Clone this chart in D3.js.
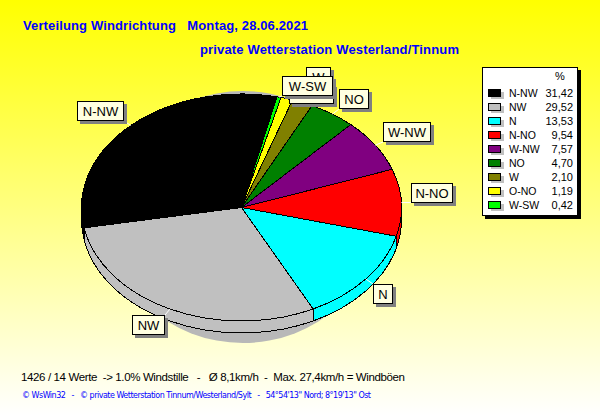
<!DOCTYPE html>
<html>
<head>
<meta charset="utf-8">
<script src="https://cdn.jsdelivr.net/npm/d3@7"></script>
<style>
  html, body { margin: 0; padding: 0; background: #fff; }
  svg { display: block; }
  text { font-family: "Liberation Sans", Arial, sans-serif; }
</style>
</head>
<body>
<svg id="chart" width="600" height="415"></svg>
<script>
const directions = ['N-NW', 'NW', 'N', 'N-NO', 'W-NW', 'NO', 'W', 'O-NO', 'W-SW'];
const shares = [31.42, 29.52, 13.53, 9.54, 7.57, 4.70, 2.10, 1.19, 0.42];
const sliceColors = ['#000000', '#c0c0c0', '#00ffff', '#ff0000', '#800080', '#008000', '#808000', '#ffff00', '#00ff00'];

const title1 = 'Verteilung Windrichtung   Montag, 28.06.2021';
const title2 = 'private Wetterstation Westerland/Tinnum';
const footer1 = '1426 / 14 Werte  -> 1.0% Windstille   -   Ø 8,1km/h  -  Max. 27,4km/h = Windböen';
const footer2 = '© WsWin32   -   © private Wetterstation Tinnum/Westerland/Sylt   -   54°54\'13" Nord; 8°19\'13" Ost';

// label boxes: x, y, width
const labelBoxes = {
  'N-NW': [77, 101, 47],
  'NW': [132, 315, 33],
  'N': [373, 284, 20],
  'N-NO': [411, 183, 42],
  'W-NW': [383, 122, 48],
  'NO': [339, 89, 30],
  'W': [306, 67, 25],
  'O-NO': [289, 84, 45],
  'W-SW': [282, 76, 51]
};
const boxH = 20;

const svg = d3.select('#chart');

const grad = svg.append('defs').append('linearGradient')
  .attr('id', 'bg')
  .attr('x1', 0).attr('y1', 0).attr('x2', 0).attr('y2', 1);
grad.append('stop').attr('offset', 0).attr('stop-color', '#ffff00');
grad.append('stop').attr('offset', 1).attr('stop-color', '#ffffff');

svg.append('rect')
  .attr('width', 600).attr('height', 415)
  .attr('fill', 'url(#bg)');

// titles
svg.append('text')
  .attr('x', 23).attr('y', 30)
  .style('white-space', 'pre')
  .attr('textLength', 285)
  .attr('font-size', 13).attr('font-weight', 'bold').attr('fill', '#0000ff')
  .text(title1);
svg.append('text')
  .attr('x', 200).attr('y', 54)
  .attr('textLength', 259)
  .attr('font-size', 13).attr('font-weight', 'bold').attr('fill', '#0000ff')
  .text(title2);

// pie
const cx = 241.5, cy = 207.5, rx = 160, ry = 113.5, depth = 12;
const startAngle = 12.8 * Math.PI / 180;

const pie = d3.pie()
  .sort(null)
  .startAngle(startAngle)
  .endAngle(startAngle - 2 * Math.PI);
const slices = pie(shares);

const arc = d3.arc().innerRadius(0).outerRadius(rx);
const rim = d3.arc().innerRadius(rx).outerRadius(rx);
const squash = `scale(1,${ry / rx})`;

function pieLayer(dy) {
  return svg.append('g')
    .attr('transform', `translate(${cx},${cy + dy}) ${squash}`)
    .attr('shape-rendering', 'crispEdges');
}

// drop shadow behind the pie
svg.append('ellipse')
  .attr('cx', 243).attr('cy', 217)
  .attr('rx', 135).attr('ry', 126)
  .attr('fill', '#b8b8b8');

// side wall, stacked from the bottom up
d3.range(depth, 0, -1).forEach(function(dy) {
  pieLayer(dy).selectAll('path')
    .data(slices)
    .enter()
    .append('path')
    .attr('d', arc)
    .attr('fill', (d, i) => sliceColors[i]);
});

pieLayer(depth).selectAll('path')
  .data(slices)
  .enter()
  .append('path')
  .attr('d', rim)
  .attr('fill', 'none')
  .attr('stroke', '#000')
  .attr('vector-effect', 'non-scaling-stroke');

// vertical edges on the wall
svg.append('g')
  .attr('transform', `translate(${cx},${cy})`)
  .attr('shape-rendering', 'crispEdges')
  .selectAll('line')
  .data(slices.filter(d => Math.cos(d.endAngle) < 0))
  .enter()
  .append('line')
  .attr('x1', d => rx * Math.sin(d.endAngle))
  .attr('x2', d => rx * Math.sin(d.endAngle))
  .attr('y1', d => -ry * Math.cos(d.endAngle))
  .attr('y2', d => -ry * Math.cos(d.endAngle) + depth)
  .attr('stroke', '#000');

// top face
pieLayer(0).selectAll('path')
  .data(slices)
  .enter()
  .append('path')
  .attr('d', arc)
  .attr('fill', (d, i) => sliceColors[i])
  .attr('stroke', '#000')
  .attr('vector-effect', 'non-scaling-stroke');

// labels with white leaders
const labels = svg.append('g');

slices.forEach(function(d, i) {
  const name = directions[i];
  const [bx, by, bw] = labelBoxes[name];
  const mid = (d.startAngle + d.endAngle) / 2;
  const ax = cx + rx * Math.sin(mid);
  const ay = cy - ry * Math.cos(mid);
  labels.append('line')
    .attr('x1', ax).attr('y1', ay)
    .attr('x2', Math.max(bx, Math.min(bx + bw, ax)))
    .attr('y2', Math.max(by, Math.min(by + boxH, ay)))
    .attr('stroke', '#fff');
});

directions.forEach(function(name) {
  const [bx, by, bw] = labelBoxes[name];
  const g = labels.append('g').attr('shape-rendering', 'crispEdges');
  g.append('rect')
    .attr('x', bx + 3).attr('y', by + 3)
    .attr('width', bw).attr('height', boxH)
    .attr('fill', '#808080');
  g.append('rect')
    .attr('x', bx + 0.5).attr('y', by + 0.5)
    .attr('width', bw - 1).attr('height', boxH - 1)
    .attr('fill', '#ffffe1')
    .attr('stroke', '#000');
  g.append('text')
    .attr('x', bx + bw / 2).attr('y', by + 15)
    .attr('text-anchor', 'middle')
    .attr('font-size', 13).attr('fill', '#000')
    .text(name);
});

// legend
const legend = svg.append('g').attr('shape-rendering', 'crispEdges');
const rowY = d3.scalePoint().domain(directions).range([92.5, 204.5]);
const fmt = d3.formatLocale({ decimal: ',', thousands: '.', grouping: [3], currency: ['', ''] }).format('.2f');

legend.append('rect')
  .attr('x', 485).attr('y', 70).attr('width', 96).attr('height', 149)
  .attr('fill', '#000');
legend.append('rect')
  .attr('x', 482.5).attr('y', 67.5).attr('width', 95).attr('height', 148)
  .attr('fill', '#fff').attr('stroke', '#000');
legend.append('text')
  .attr('x', 560).attr('y', 80)
  .attr('text-anchor', 'middle')
  .attr('font-size', 11)
  .text('%');

const rows = legend.selectAll('g.row')
  .data(directions)
  .enter()
  .append('g')
  .classed('row', true)
  .attr('transform', d => `translate(0,${rowY(d)})`);

rows.append('rect')
  .attr('x', 491).attr('y', -1).attr('width', 13).attr('height', 7)
  .attr('fill', '#c0c0c0');
rows.append('rect')
  .attr('x', 488.5).attr('y', -3.5).attr('width', 12).attr('height', 7)
  .attr('fill', (d, i) => sliceColors[i])
  .attr('stroke', '#000');
rows.append('text')
  .attr('x', 509).attr('y', 4)
  .attr('font-size', 10.5)
  .text(d => d);
rows.append('text')
  .attr('x', 573).attr('y', 4)
  .attr('text-anchor', 'end')
  .attr('font-size', 11)
  .text((d, i) => fmt(shares[i]));

// footer
svg.append('text')
  .attr('x', 21).attr('y', 381)
  .style('white-space', 'pre')
  .attr('textLength', 384)
  .attr('font-size', 11.5).attr('fill', '#000')
  .text(footer1);
svg.append('text')
  .attr('x', 22).attr('y', 398)
  .style('white-space', 'pre')
  .style('font-family', '"DejaVu Sans", sans-serif')
  .attr('textLength', 349)
  .attr('font-size', 8).attr('fill', '#0000ff')
  .text(footer2);
</script>
</body>
</html>
